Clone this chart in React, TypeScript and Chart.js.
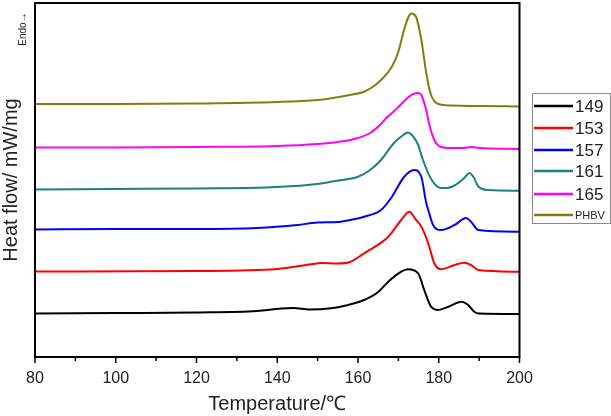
import React, { useEffect, useRef } from "react";
import { Chart, registerables } from "chart.js";

Chart.register(...registerables);

// Temperature (°C) sample points and stacked heat-flow values (arbitrary offset units) per sample
const temps149 = [80, 100, 120, 135, 141, 144, 148, 153.3, 157, 161.5, 165, 167.5, 170.7, 172.3, 174.9, 176.4, 178.1, 179.9, 182.4, 185.6, 187.3, 188.8, 190, 200];
const flow149 = [3.85, 3.9, 3.95, 4.1, 4.35, 4.4, 4.25, 4.37, 4.65, 5.2, 6.0, 7.03, 8.03, 8.27, 7.87, 6.2, 4.53, 4.2, 4.53, 5.03, 4.7, 4.03, 3.85, 3.8];

const temps153 = [80, 120, 140, 148, 151, 155, 158, 161.5, 167.5, 170.7, 172.7, 174.4, 175.7, 177.4, 178.9, 180.6, 183.9, 186.3, 188, 189.8, 200];
const flow153 = [8.05, 8.1, 8.3, 8.75, 8.9, 8.85, 9.0, 9.87, 11.53, 13.2, 14.03, 13.2, 12.53, 10.87, 8.87, 8.27, 8.7, 8.93, 8.7, 8.2, 8.03];

const temps157 = [80, 100, 120, 135, 145, 150, 155, 158, 161.5, 165.7, 168.2, 171.4, 173.9, 175.7, 176.9, 177.4, 178.6, 180.6, 183.9, 186.8, 188, 189.8, 200];
const flow157 = [12.25, 12.3, 12.3, 12.4, 12.7, 12.95, 13.0, 13.2, 13.53, 14.2, 15.4, 17.5, 18.2, 17.5, 14.9, 14.2, 12.7, 12.2, 12.7, 13.4, 13.03, 12.2, 12.03];

const temps161 = [80, 100, 120, 140, 150, 153.3, 157, 160, 163, 165.7, 168.9, 171.2, 172.4, 173.7, 174.9, 176.1, 178.1, 180.6, 182, 183.9, 186.3, 187.6, 188.6, 189.8, 192.3, 200];
const flow161 = [16.25, 16.3, 16.35, 16.5, 16.8, 17.03, 17.25, 17.53, 18.2, 19.2, 20.9, 21.7, 21.95, 21.53, 20.7, 19.2, 17.3, 16.4, 16.4, 16.65, 17.4, 17.9, 17.5, 16.55, 16.2, 16.13];

const temps165 = [80, 100, 120, 140, 150, 155, 160, 163, 165.7, 167, 169, 170, 171.5, 172.5, 174, 175, 175.7, 176.4, 177, 177.5, 178.9, 180.6, 183, 186, 188, 190, 200];
const flow165 = [20.45, 20.45, 20.5, 20.6, 20.8, 21.0, 21.4, 21.9, 22.8, 23.4, 24.1, 24.5, 25.1, 25.5, 25.85, 25.9, 25.7, 24.9, 24.0, 23.0, 21.2, 20.5, 20.4, 20.4, 20.5, 20.4, 20.3];

const tempsPHBV = [80, 100, 120, 140, 150, 153, 158, 161.5, 164, 165.7, 168.2, 169.9, 171.4, 172.5, 173.2, 174.4, 175.7, 176.9, 178.1, 179.9, 183, 190, 200];
const flowPHBV = [24.8, 24.8, 24.85, 25.0, 25.2, 25.35, 25.7, 26.03, 26.6, 27.2, 28.4, 29.9, 32.2, 33.5, 33.85, 33.5, 31.2, 27.9, 25.7, 24.8, 24.65, 24.6, 24.55];

const seriesLabels = ["149", "153", "157", "161", "165", "PHBV"];
const seriesColors = ["#000000", "#ff0000", "#0000ff", "#1f7f7f", "#ff00ff", "#7f7f10"];
const seriesTemps = [temps149, temps153, temps157, temps161, temps165, tempsPHBV];
const seriesFlows = [flow149, flow153, flow157, flow161, flow165, flowPHBV];

const xMajorTicks = [80, 100, 120, 140, 160, 180, 200];
const xMinorTicks = [90, 110, 130, 150, 170, 190];

const xTitle = "Temperature/℃";
const yTitle = "Heat flow/ mW/mg";
const endoLabel = "Endo→";

const FONT = "'Liberation Sans', Arial, sans-serif";

const decorPlugin = {
  id: "decor",
  afterDraw(chart: any) {
    const ctx = chart.ctx;
    const ca = chart.chartArea;
    const xs = chart.scales.x;
    ctx.save();
    // frame
    ctx.strokeStyle = "#000";
    ctx.lineWidth = 2;
    ctx.strokeRect(ca.left, ca.top, ca.right - ca.left, ca.bottom - ca.top);
    // ticks
    ctx.lineWidth = 1.5;
    xMajorTicks.forEach((v) => {
      const px = xs.getPixelForValue(v);
      ctx.beginPath();
      ctx.moveTo(px, ca.bottom);
      ctx.lineTo(px, ca.bottom + 6);
      ctx.stroke();
    });
    xMinorTicks.forEach((v) => {
      const px = xs.getPixelForValue(v);
      ctx.beginPath();
      ctx.moveTo(px, ca.bottom);
      ctx.lineTo(px, ca.bottom + 4);
      ctx.stroke();
    });
    // x title
    ctx.fillStyle = "#222";
    ctx.font = `20px ${FONT}`;
    ctx.textAlign = "center";
    ctx.textBaseline = "middle";
    ctx.fillText(xTitle, (ca.left + ca.right) / 2, 404);
    // y title
    ctx.save();
    ctx.translate(11, 180);
    ctx.rotate(-Math.PI / 2);
    ctx.fillText(yTitle, 0, 0);
    ctx.restore();
    // Endo
    ctx.save();
    ctx.font = `10px ${FONT}`;
    ctx.translate(23, 29);
    ctx.rotate(-Math.PI / 2);
    ctx.fillText(endoLabel, 0, 0);
    ctx.restore();
    // legend
    const lx = 532, ly = 93, lw = 78, lh = 130;
    ctx.strokeStyle = "#8a8a8a";
    ctx.lineWidth = 1;
    ctx.strokeRect(lx + 0.5, ly + 0.5, lw, lh);
    const rowY = [106, 128, 150, 171, 194, 215];
    seriesLabels.forEach((lab, i) => {
      ctx.strokeStyle = seriesColors[i];
      ctx.lineWidth = 2.5;
      ctx.beginPath();
      ctx.moveTo(534, rowY[i]);
      ctx.lineTo(573, rowY[i]);
      ctx.stroke();
      ctx.fillStyle = "#222";
      ctx.textAlign = "left";
      ctx.textBaseline = "middle";
      ctx.font = lab === "PHBV" ? `11px ${FONT}` : `17px ${FONT}`;
      ctx.fillText(lab, 575, rowY[i] + 1);
    });
    ctx.restore();
  },
};

export default function App() {
  const canvasRef = useRef<HTMLCanvasElement | null>(null);

  useEffect(() => {
    document.body.style.margin = "0";
    const canvas = canvasRef.current;
    if (!canvas) return;
    const datasets = seriesLabels.map((lab, i) => ({
      label: lab,
      data: seriesTemps[i].map((t, j) => ({ x: t, y: seriesFlows[i][j] })),
      borderColor: seriesColors[i],
      borderWidth: 2,
      pointRadius: 0,
      fill: false,
      cubicInterpolationMode: "monotone" as const,
    }));
    const chart = new Chart(canvas, {
      type: "line",
      data: { datasets },
      options: {
        responsive: false,
        animation: false,
        layout: { padding: { left: 35, top: 3, right: 91.5, bottom: 0 } },
        plugins: { legend: { display: false }, tooltip: { enabled: false } },
        scales: {
          x: {
            type: "linear",
            min: 80,
            max: 200,
            grid: { display: false, drawTicks: false },
            border: { display: false },
            ticks: {
              stepSize: 20,
              padding: 12,
              color: "#222",
              font: { size: 16, family: FONT },
              maxRotation: 0,
            },
            afterFit: (scale: any) => {
              scale.height = 59;
            },
          },
          y: {
            display: false,
            min: -0.5,
            max: 34.9,
          },
        },
      },
      plugins: [decorPlugin],
    });
    return () => chart.destroy();
  }, []);

  return <canvas ref={canvasRef} width={611} height={416} style={{ display: "block" }} />;
}
